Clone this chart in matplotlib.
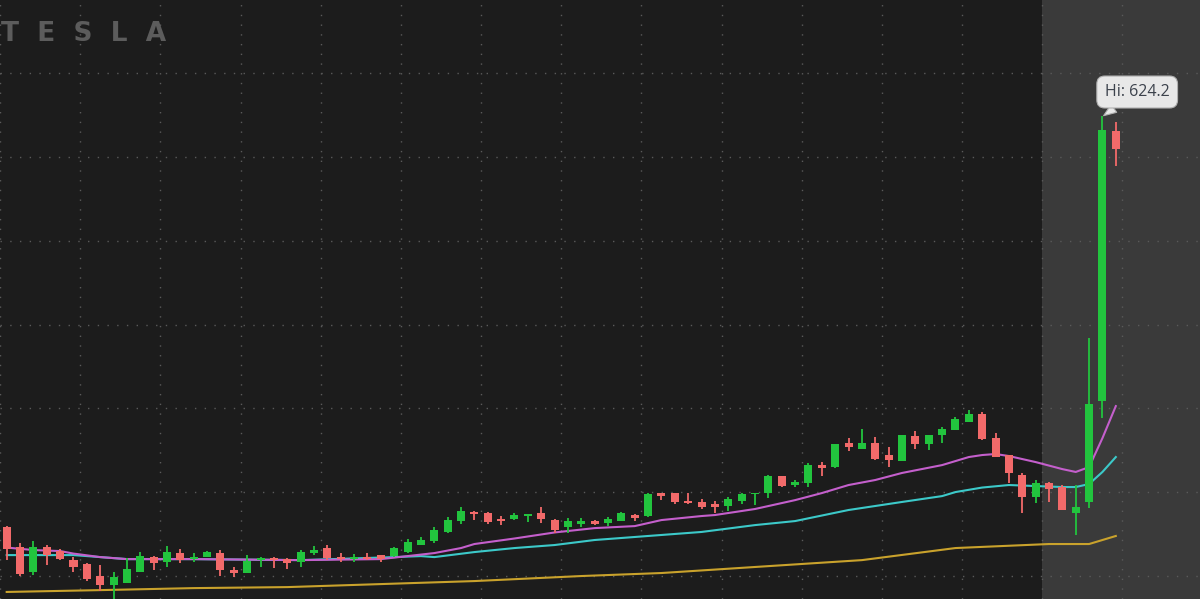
import matplotlib
matplotlib.use("Agg")
import matplotlib.pyplot as plt
from matplotlib.ticker import MultipleLocator
import numpy as np

# Velas diárias (abertura, máxima, mínima, fechamento)
opens = [379.2, 367.3, 352.4, 367.3, 364.9, 359.5, 357.2, 350.0, 344.6, 345.8,
         352.4, 361.3, 358.4, 363.7, 360.1, 361.3, 363.7, 353.6, 351.8, 359.5,
         360.7, 360.1, 358.4, 363.7, 366.7, 361.3, 360.1, 361.3, 362.5, 361.9,
         364.3, 368.5, 370.9, 376.3, 382.8, 388.2, 387.6, 384.0, 384.0, 385.8,
         387.6, 383.4, 379.2, 381.0, 382.8, 381.6, 382.8, 386.4, 385.8, 399.5,
         399.5, 394.8, 394.2, 393.0, 391.8, 394.8, 398.9, 399.5, 409.7, 404.3,
         405.5, 416.2, 415.0, 429.4, 425.8, 429.4, 422.2, 418.6, 433.5, 428.8,
         434.1, 437.1, 441.9, 446.7, 432.3, 422.2, 410.3, 397.1, 405.5, 403.1,
         387.6, 394.2, 454.4, 615.5]
highs = [379.8, 369.7, 370.9, 368.5, 366.1, 361.3, 357.8, 356.6, 352.4, 360.7,
         364.3, 361.9, 367.9, 366.1, 363.7, 364.9, 365.5, 355.4, 362.5, 361.3,
         361.3, 360.7, 365.5, 367.9, 368.5, 363.7, 363.1, 363.7, 362.5, 367.3,
         372.1, 373.3, 379.2, 385.2, 391.2, 388.8, 388.2, 385.8, 387.6, 387.0,
         391.2, 384.0, 384.6, 384.6, 383.4, 385.2, 388.2, 387.0, 399.5, 399.5,
         399.5, 399.5, 395.9, 394.8, 397.1, 399.5, 399.5, 410.3, 409.7, 407.3,
         417.4, 418.0, 428.8, 432.3, 437.7, 432.9, 427.0, 434.1, 436.5, 434.1,
         438.9, 444.9, 449.1, 447.9, 435.3, 422.2, 411.5, 407.3, 406.1, 404.3,
         404.3, 492.0, 624.2, 620.9]
lows = [359.5, 350.0, 350.6, 356.6, 359.5, 352.4, 347.0, 341.0, 336.3, 345.8,
        352.4, 353.6, 355.4, 357.8, 358.4, 361.3, 350.0, 349.4, 351.8, 355.4,
        354.8, 354.2, 355.4, 362.5, 359.5, 358.4, 358.4, 359.5, 358.4, 361.3,
        363.7, 368.5, 369.7, 375.7, 381.0, 383.4, 381.0, 380.4, 383.4, 382.2,
        381.6, 375.7, 375.7, 379.2, 380.4, 379.8, 382.8, 382.8, 385.2, 395.3,
        393.0, 393.0, 390.0, 387.6, 388.8, 393.0, 392.4, 396.5, 403.1, 403.1,
        403.1, 409.7, 414.4, 424.6, 425.8, 419.2, 415.0, 418.6, 425.8, 425.2,
        429.4, 437.1, 441.9, 431.2, 421.0, 405.5, 387.6, 393.6, 394.2, 389.4,
        374.5, 390.6, 444.3, 594.6]
closes = [366.1, 351.2, 367.3, 362.5, 360.1, 355.4, 348.2, 344.6, 349.4, 354.2,
          361.9, 357.8, 364.3, 359.5, 361.3, 364.3, 353.6, 351.8, 359.0, 360.7,
          359.5, 357.8, 364.3, 365.5, 360.7, 360.1, 361.3, 360.1, 360.1, 366.7,
          370.3, 371.5, 377.4, 383.4, 388.8, 387.0, 382.2, 382.8, 386.4, 387.0,
          384.0, 377.4, 382.8, 382.8, 381.0, 384.0, 387.6, 384.6, 398.9, 397.7,
          394.2, 393.6, 391.2, 391.2, 395.9, 398.9, 399.5, 409.7, 403.7, 406.1,
          416.2, 414.4, 428.8, 427.0, 429.4, 419.8, 419.2, 434.1, 428.8, 434.1,
          437.7, 443.7, 446.7, 431.7, 421.0, 411.5, 397.1, 405.5, 401.9, 389.4,
          391.2, 452.6, 616.1, 604.8]

# Médias móveis (índice da vela, preço)
ma_rosa_idx = [0, 2, 4, 5, 7, 9, 14, 22, 28, 30, 32, 34, 35, 38, 41, 44, 47, 49,
               52, 53, 56, 59, 61, 63, 65, 67, 70, 72, 73, 74, 75, 77, 79, 80, 81, 82, 83]
ma_rosa = [367.0, 365.5, 364.9, 363.4, 361.3, 360.1, 360.1, 359.5, 360.1, 361.9,
           363.7, 366.7, 369.1, 372.4, 376.0, 378.6, 379.8, 383.4, 385.8, 386.4,
           390.0, 395.3, 399.5, 404.3, 407.3, 411.5, 416.2, 421.0, 422.2, 422.8,
           421.6, 418.0, 413.8, 412.1, 415.0, 432.3, 451.4]

ma_ciano_idx = [0, 5, 7, 9, 14, 22, 29, 31, 32, 35, 38, 41, 44, 47, 52, 56, 59,
                63, 67, 70, 71, 73, 75, 77, 79, 80, 81, 82, 83]
ma_ciano = [362.5, 362.5, 361.3, 360.1, 360.1, 359.5, 361.3, 361.9, 361.3, 364.3,
            366.7, 368.5, 371.5, 373.3, 376.3, 380.4, 382.8, 389.4, 394.2, 397.7,
            400.1, 402.8, 404.3, 403.7, 403.1, 403.1, 404.9, 412.1, 421.0]

ma_ouro_idx = [0, 7, 14, 21, 28, 35, 43, 49, 56, 64, 71, 78, 81, 83]
ma_ouro = [340.5, 341.6, 342.8, 343.4, 345.2, 347.0, 350.0, 351.8, 355.4, 359.5,
           366.7, 369.1, 369.1, 373.9]

verde = '#22c43e'
vermelho = '#f26a6a'

fig = plt.figure(figsize=(12, 5.99), dpi=100, facecolor='#1c1c1c')
ax = fig.add_axes([0, 0, 1, 1])
ax.set_facecolor('#1c1c1c')

n = len(opens)
x = np.arange(n)
o = np.array(opens)
c = np.array(closes)
cores = [verde if c[i] >= o[i] else vermelho for i in range(n)]

# Região sombreada (pós-mercado)
ax.axvspan(77.5, 90, color='#3a3a3a', zorder=0.2, lw=0)

# Grade pontilhada
ax.set_xticks(np.arange(-0.5, 90, 6))
ax.yaxis.set_major_locator(MultipleLocator(50))
ax.grid(True, color='#5a5a5a', linestyle=(0, (1, 6)), linewidth=1.0)
ax.set_axisbelow(True)

# Médias móveis
ax.plot(ma_ouro_idx, ma_ouro, color='#c9a22c', lw=1.5, zorder=2)
ax.plot(ma_ciano_idx, ma_ciano, color='#3cc9c9', lw=1.5, zorder=2)
ax.plot(ma_rosa_idx, ma_rosa, color='#c45fcc', lw=1.5, zorder=2)

# Velas
ax.vlines(x, lows, highs, colors=cores, lw=1.3, zorder=3)
corpo = np.maximum(np.abs(c - o), 0.7)
ax.bar(x, corpo, bottom=np.minimum(o, c), width=0.6, color=cores, zorder=3)

ax.set_xlim(-0.5, 89.3)
ax.set_ylim(336.3, 693.7)
ax.tick_params(left=False, bottom=False, labelleft=False, labelbottom=False)
for s in ax.spines.values():
    s.set_visible(False)

# Rótulo da máxima
imax = int(np.argmax(highs))
ax.annotate(f'Hi: {highs[imax]:.1f}', xy=(imax, highs[imax]), xytext=(84.6, 638.8),
            ha='center', va='center', fontsize=11.5, color='#3c424c', family='Open Sans',
            bbox=dict(boxstyle='round,pad=0.5', fc='#e8e8e8', ec='#b0b0b0', lw=0.8),
            arrowprops=dict(arrowstyle='wedge,tail_width=0.6', fc='#e8e8e8', ec='#b0b0b0',
                            lw=0.8, shrinkA=0, shrinkB=1),
            zorder=5)

# Logotipo
fig.text(0.001, 1 - 34 / 599, 'T  E  S  L  A', color='#5c5c5c', fontsize=19,
         fontweight='bold', va='center', ha='left')

fig.savefig('out.png', dpi=100, facecolor=fig.get_facecolor())
